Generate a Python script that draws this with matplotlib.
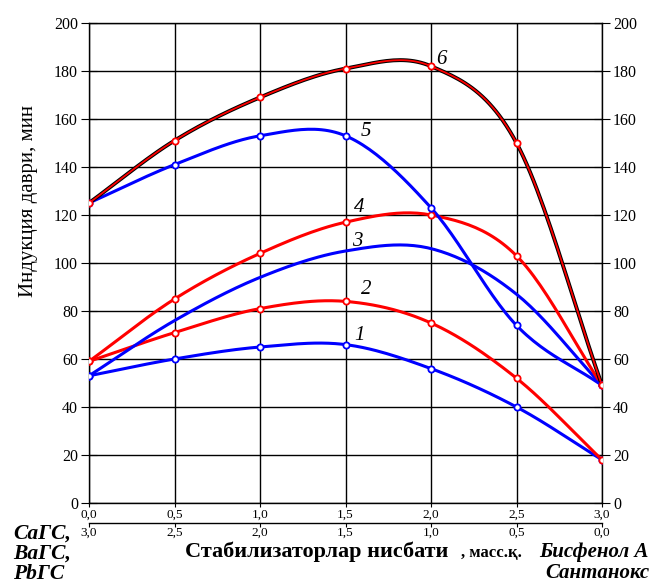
import numpy as np
import matplotlib.pyplot as plt

# ratio of stabilizers (bisphenol A part), mass parts
x = [0.0, 0.5, 1.0, 1.5, 2.0, 2.5, 3.0]

# induction period, min  (curves 1..6)
curve1 = [53, 60, 65, 66, 56, 40, 18]
curve2 = [59, 71, 81, 84, 75, 52, 18]
curve3 = [53, 76, 94, 105, 106, 87, 49]
curve4 = [59, 85, 104, 117, 120, 103, 49]
curve5 = [125, 141, 153, 153, 123, 74, 49]
curve6 = [125, 151, 169, 181, 182, 150, 49]

curve_labels = ['1', '2', '3', '4', '5', '6']
label_pos = [(1.58, 70), (1.62, 89), (1.57, 109), (1.58, 123), (1.62, 155), (2.06, 185)]

xticks = [0.0, 0.5, 1.0, 1.5, 2.0, 2.5, 3.0]
xtick_labels = ['0,0', '0,5', '1,0', '1,5', '2,0', '2,5', '3,0']
xtick_labels2 = ['3,0', '2,5', '2,0', '1,5', '1,0', '0,5', '0,0']

BLUE = '#0000ff'
RED = '#ff0000'
SERIF = ['Liberation Serif', 'DejaVu Serif']


# Excel-like smoothed line (Catmull-Rom) through the data points
def smooth(xs, ys, n=25):
    xs = np.asarray(xs, float)
    ys = np.asarray(ys, float)
    px = np.concatenate([[2 * xs[0] - xs[1]], xs, [2 * xs[-1] - xs[-2]]])
    py = np.concatenate([[2 * ys[0] - ys[1]], ys, [2 * ys[-1] - ys[-2]]])
    ox, oy = [], []
    for i in range(1, len(px) - 2):
        t = np.linspace(0, 1, n, endpoint=False)
        for p, o in ((px, ox), (py, oy)):
            p0, p1, p2, p3 = p[i - 1], p[i], p[i + 1], p[i + 2]
            o.extend(0.5 * (2 * p1 + (-p0 + p2) * t + (2 * p0 - 5 * p1 + 4 * p2 - p3) * t ** 2
                            + (-p0 + 3 * p1 - 3 * p2 + p3) * t ** 3))
    ox.append(xs[-1])
    oy.append(ys[-1])
    return np.array(ox), np.array(oy)


plt.rcParams['font.family'] = SERIF

fig = plt.figure(figsize=(6.51, 5.85), dpi=100)
W, H = 651, 585
ax = fig.add_axes([89 / W, 1 - 503 / H, (602 - 89) / W, (503 - 23) / H])

ax.set_xlim(0, 3)
ax.set_ylim(0, 200)
ax.set_xticks(xticks)
ax.set_yticks(range(0, 201, 20))
ax.grid(True, color='black', linewidth=1.0)
for s in ax.spines.values():
    s.set_linewidth(1.0)

markers_kw = dict(marker='o', markersize=4.5, markerfacecolor='white',
                  markeredgewidth=1.3, linestyle='none')

# curves 1..5
for ys, col, mk in [(curve1, BLUE, True), (curve2, RED, True), (curve3, BLUE, False),
                    (curve4, RED, True), (curve5, BLUE, True)]:
    sx, sy = smooth(x, ys)
    ax.plot(sx, sy, color=col, linewidth=2.2, zorder=3)
    if mk:
        ax.plot(x, ys, color=col, markeredgecolor=col, zorder=4, **markers_kw)
    else:
        ax.plot([x[0], x[-1]], [ys[0], ys[-1]], color=col, markeredgecolor=col,
                zorder=4, **markers_kw)

# curve 6: black line with thin red line on top
sx, sy = smooth(x, curve6)
ax.plot(sx, sy, color='black', linewidth=2.8, zorder=3)
ax.plot(sx, sy, color=RED, linewidth=1.3, zorder=3.5)
ax.plot(x, curve6, color=RED, markeredgecolor=RED, zorder=4, **markers_kw)

for lab, (lx, ly) in zip(curve_labels, label_pos):
    ax.text(lx, ly, lab, fontsize=15, fontstyle='italic', ha='center', va='center', zorder=5)

ax.set_xticklabels(xtick_labels, fontsize=9.5)
ax.tick_params(axis='x', direction='out', length=3, pad=1)
ax.tick_params(axis='y', direction='inout', length=12, labelsize=11.5, pad=2,
               right=True, labelright=True)

sec = ax.secondary_xaxis(-20 / 480)
sec.set_xticks(xticks)
sec.set_xticklabels(xtick_labels2, fontsize=9.5)
sec.tick_params(direction='out', length=3, pad=0)
sec.spines['bottom'].set_linewidth(1.0)

ax.set_ylabel('Индукция даври, мин', fontsize=15, labelpad=4)
ax.yaxis.set_label_coords(-0.1, 0.63)

# bottom captions
for txt, yy in [('CaГС,', 534), ('BaГС,', 554), ('PbГС', 574)]:
    fig.text(13 / W, 1 - yy / H, txt, fontsize=15.5, fontweight='bold', fontstyle='italic',
             ha='left', va='center')

fig.text(185 / W, 1 - 552 / H, 'Стабилизаторлар нисбати', fontsize=16, fontweight='bold',
         ha='left', va='center')
fig.text(461 / W, 1 - 553 / H, ', масс.қ.', fontsize=12, fontweight='bold',
         ha='left', va='center')
fig.text(649 / W, 1 - 552 / H, 'Бисфенол А', fontsize=15, fontweight='bold',
         fontstyle='italic', ha='right', va='center')
fig.text(649 / W, 1 - 573 / H, 'Сантанокс', fontsize=15, fontweight='bold',
         fontstyle='italic', ha='right', va='center')

fig.savefig('out.png', dpi=100)
